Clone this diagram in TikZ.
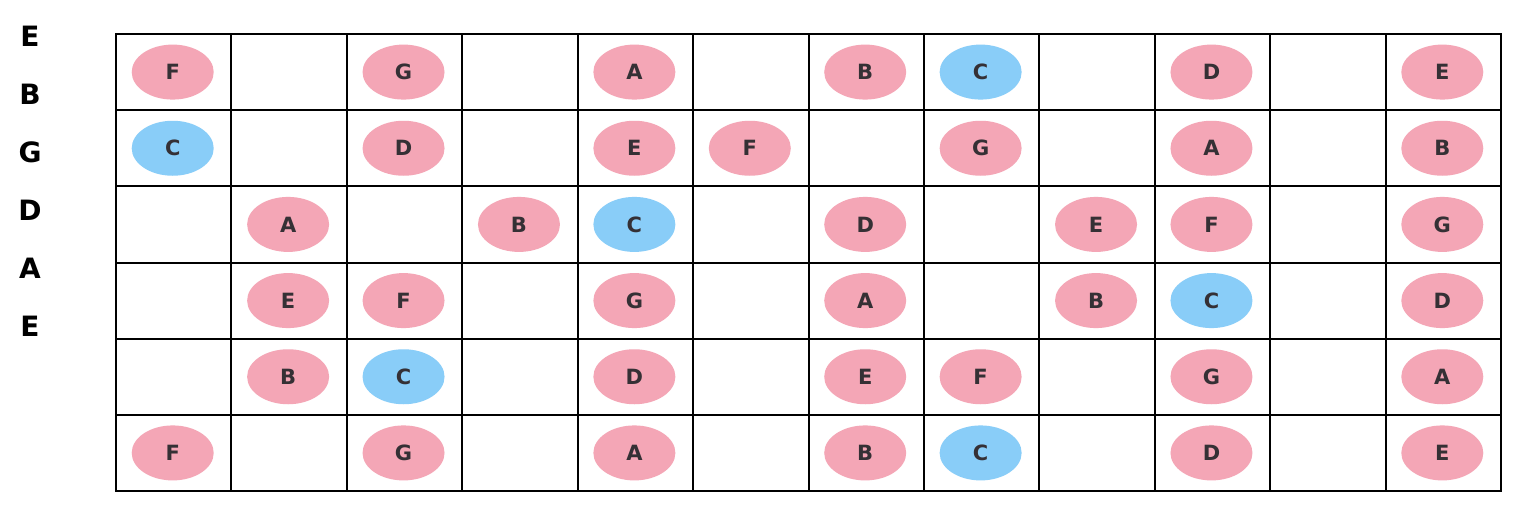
\documentclass[tikz,border=0pt]{standalone}
\usepackage{fontspec}
\setmainfont{DejaVu Sans}
\usetikzlibrary{shapes.geometric}
\definecolor{notepink}{HTML}{F4A6B6}
\definecolor{noteblue}{HTML}{89CDF8}
\definecolor{notetext}{HTML}{353035}
\begin{document}
\begin{tikzpicture}[x=1pt,y=-1pt,
  gridline/.style={line width=2pt,black},
  notebase/.style={ellipse,minimum width=82pt,minimum height=55pt,inner sep=0pt,text=notetext,font=\fontsize{21}{21}\selectfont\bfseries},
  pinknote/.style={notebase,fill=notepink},
  bluenote/.style={notebase,fill=noteblue},
  strlabel/.style={font=\fontsize{28}{28}\selectfont\bfseries,anchor=center}]
\useasboundingbox (0,0) rectangle (1536,527);
\fill[white] (0,0) rectangle (1536,527);
% string labels
\foreach \s [count=\i] in {E,B,G,D,A,E}
  \node[strlabel] (lab\i) at (30,{36+58*(\i-1)}) {\s};
% grid
\pgfmathsetmacro{\cw}{(1501-116)/12}
\pgfmathsetmacro{\rh}{(491-34)/6}
\foreach \c in {0,...,12}
  \draw[gridline] ({116+\c*\cw},34) -- ({116+\c*\cw},491);
\foreach \r in {0,...,6}
  \draw[gridline] (115,{34+\r*\rh}) -- (1502,{34+\r*\rh});
% notes: row/col/letter
\foreach \r/\c/\n in {
 1/1/F,1/3/G,1/5/A,1/7/B,1/8/C,1/10/D,1/12/E,
 2/1/C,2/3/D,2/5/E,2/6/F,2/8/G,2/10/A,2/12/B,
 3/2/A,3/4/B,3/5/C,3/7/D,3/9/E,3/10/F,3/12/G,
 4/2/E,4/3/F,4/5/G,4/7/A,4/9/B,4/10/C,4/12/D,
 5/2/B,5/3/C,5/5/D,5/7/E,5/8/F,5/10/G,5/12/A,
 6/1/F,6/3/G,6/5/A,6/7/B,6/8/C,6/10/D,6/12/E}
 {
  \if\n C\def\st{bluenote}\else\def\st{pinknote}\fi
  \node[\st] (n\r-\c) at ({116+(\c-0.5)*\cw-1},{34+(\r-0.5)*\rh}) {\n};
 }
\end{tikzpicture}
\end{document}
